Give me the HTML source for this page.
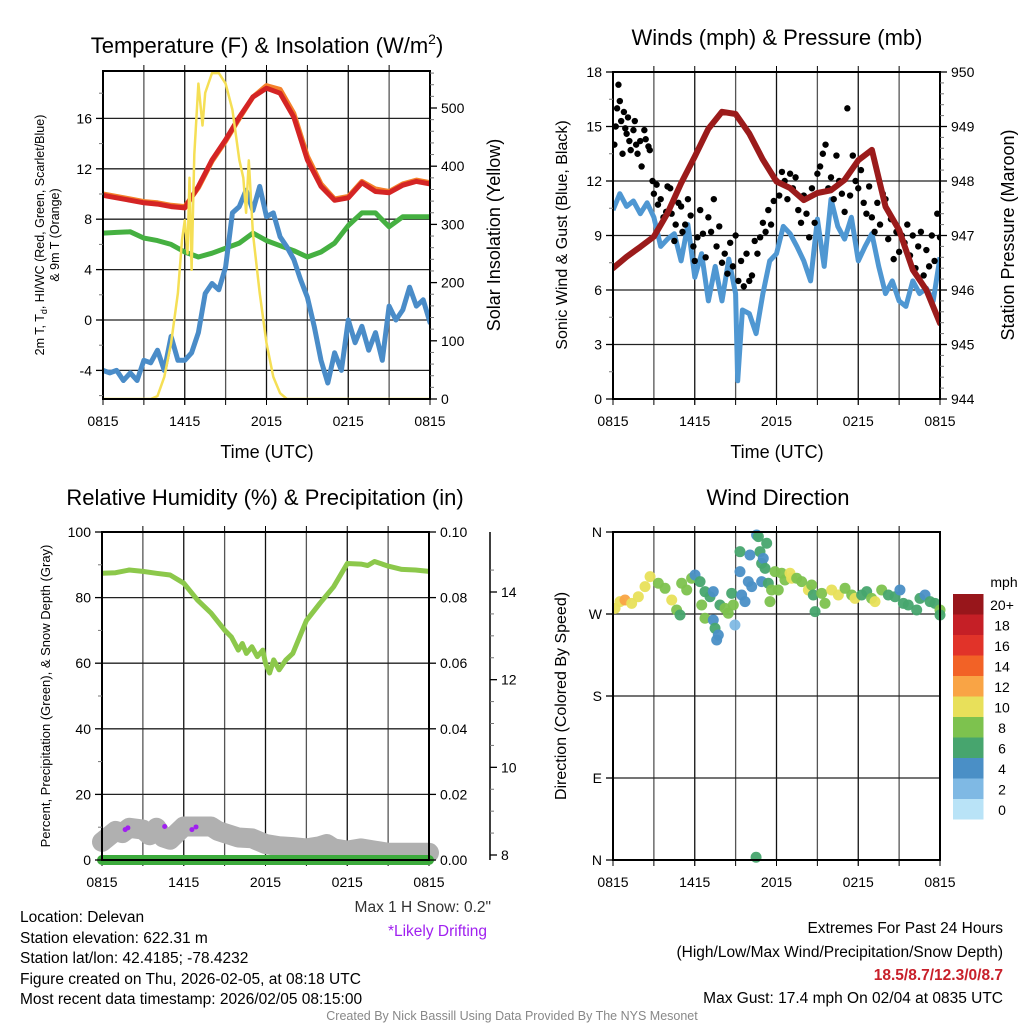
<!DOCTYPE html>
<html><head><meta charset="utf-8"><style>
html,body{margin:0;padding:0;background:#fff;}
svg{display:block;font-family:"Liberation Sans",Arial,sans-serif;}
</style></head><body>
<svg id="c" width="1024" height="1024" viewBox="0 0 1024 1024" xmlns="http://www.w3.org/2000/svg">
<rect width="1024" height="1024" fill="#fff"/>
<text x="267" y="53" font-size="22" text-anchor="middle">Temperature (F) &amp; Insolation (W/m<tspan font-size="14" dy="-9">2</tspan><tspan dy="9">)</tspan></text>
<text x="777" y="45" font-size="22" text-anchor="middle">Winds (mph) &amp; Pressure (mb)</text>
<text x="265" y="505" font-size="22" text-anchor="middle">Relative Humidity (%) &amp; Precipitation (in)</text>
<text x="778" y="505" font-size="22" text-anchor="middle">Wind Direction</text>

<text transform="translate(44,235) rotate(-90)" font-size="12.5" text-anchor="middle">2m T, T<tspan font-size="9" dy="3">d</tspan><tspan dy="-3">, HI/WC (Red, Green, Scarlet/Blue)</tspan></text>
<text transform="translate(59,235) rotate(-90)" font-size="12.5" text-anchor="middle">&amp; 9m T (Orange)</text>
<text transform="translate(500,235) rotate(-90)" font-size="18" text-anchor="middle">Solar Insolation (Yellow)</text>
<text transform="translate(567,235) rotate(-90)" font-size="16" text-anchor="middle">Sonic Wind &amp; Gust (Blue, Black)</text>
<text transform="translate(1014,235) rotate(-90)" font-size="18" text-anchor="middle">Station Pressure (Maroon)</text>
<text transform="translate(50,696) rotate(-90)" font-size="13" text-anchor="middle">Percent, Precipitation (Green), &amp; Snow Depth (Gray)</text>
<text transform="translate(566,696) rotate(-90)" font-size="16" text-anchor="middle">Direction (Colored By Speed)</text>
<text x="267" y="458" font-size="18" text-anchor="middle">Time (UTC)</text>
<text x="777" y="458" font-size="18" text-anchor="middle">Time (UTC)</text>

<text x="20" y="922" font-size="15.5">Location: Delevan</text>
<text x="20" y="943" font-size="15.5">Station elevation: 622.31 m</text>
<text x="20" y="963" font-size="15.5">Station lat/lon: 42.4185; -78.4232</text>
<text x="20" y="984" font-size="15.5">Figure created on Thu, 2026-02-05, at 08:18 UTC</text>
<text x="20" y="1004" font-size="15.5">Most recent data timestamp: 2026/02/05 08:15:00</text>
<text x="491" y="912" font-size="15.5" fill="#333" text-anchor="end">Max 1 H Snow: 0.2"</text>
<text x="487" y="936" font-size="15.5" fill="#a020f0" text-anchor="end">*Likely Drifting</text>
<text x="1003" y="933" font-size="15.5" text-anchor="end">Extremes For Past 24 Hours</text>
<text x="1003" y="957" font-size="15.5" text-anchor="end">(High/Low/Max Wind/Precipitation/Snow Depth)</text>
<text x="1003" y="980" font-size="15.5" font-weight="bold" fill="#c8202a" text-anchor="end">18.5/8.7/12.3/0/8.7</text>
<text x="1003" y="1003" font-size="15.5" text-anchor="end">Max Gust: 17.4 mph On 02/04 at 0835 UTC</text>
<text x="512" y="1020" font-size="12.5" fill="#888" text-anchor="middle">Created By Nick Bassill Using Data Provided By The NYS Mesonet</text>
<g id="g"></g>
</svg>
<script>
// ---------- data ----------
const timeLabels = ["0815","1415","2015","0215","0815"];
const hourly = [0,1,2,3,4,5,6,7,8,9,10,11,12,13,14,15,16,17,18,19,20,21,22,23,24];
const tempVals = [9.9,9.7,9.5,9.3,9.2,9.0,8.9,10.6,12.7,14.3,16.1,17.7,18.4,18.0,16.1,12.7,10.6,9.5,9.7,10.9,10.2,10.1,10.7,11.0,10.8];
const temp9mVals = [10.0,9.8,9.6,9.4,9.3,9.1,9.0,10.5,12.6,14.2,16.0,17.7,18.6,18.3,16.4,13.0,10.8,9.6,9.8,11.0,10.4,10.2,10.8,11.1,10.9];
const hiwcVals = [6.9,6.95,7.0,6.5,6.3,6.0,5.4,5.0,5.3,5.7,6.1,6.9,6.3,5.9,5.5,5.0,5.4,6.1,7.5,8.5,8.5,7.4,8.2,8.2,8.2];
const dewHours = [0,0.5,1,1.5,2,2.5,3,3.5,4,4.5,5,5.5,6,6.5,7,7.5,8,8.5,9,9.5,10,10.5,11,11.5,12,12.5,13,13.5,14,14.5,15,15.5,16,16.5,17,17.5,18,18.5,19,19.5,20,20.5,21,21.5,22,22.5,23,23.5,24];
const dewVals = [-4.0,-4.2,-4.0,-4.8,-4.2,-4.8,-3.2,-3.4,-2.4,-4.0,-1.3,-3.2,-3.2,-2.6,-1.0,2.1,2.9,2.4,4.2,8.5,9.0,10.3,8.7,10.6,8.2,8.5,6.6,5.8,4.8,3.2,1.8,-0.5,-3.2,-5.0,-2.6,-4.0,0,-1.8,-0.5,-2.4,-1.0,-3.2,1.1,0,0.8,2.6,1.1,1.6,-0.2];
const solarHours = [0,3.5,4,4.5,5,5.5,5.8,6.0,6.2,6.35,6.5,6.7,7,7.3,7.5,8,8.5,9,9.5,10,10.3,10.5,10.7,11,11.5,12,12.5,13,13.5,24];
const solarVals = [0,0,5,38,96,182,273,307,250,380,222,420,542,470,526,560,560,542,497,411,380,320,410,285,182,96,38,10,0,0];
const windHours = [0,0.5,1,1.5,2,2.5,3,3.5,4,4.5,5,5.5,6,6.5,7,7.5,8,8.5,9,9.15,9.5,10,10.5,11,11.5,12,12.5,13,13.5,14,14.5,15,15.5,16,16.5,17,17.5,18,18.5,19,19.5,20,20.5,21,21.5,22,22.5,23,23.5,24];
const windVals = [10.4,11.3,10.6,10.9,10.2,10.8,10.0,8.4,8.8,9.1,7.6,9.6,6.7,8.0,5.4,7.3,5.4,7.7,5.8,1.0,4.9,4.7,3.6,5.8,7.6,8.0,9.5,9.1,8.4,7.6,6.5,9.9,7.3,11.0,9.5,8.8,10.0,7.6,8.4,9.1,7.3,5.8,6.5,5.4,5.1,6.5,5.8,6.1,5.4,7.8];
const gustHours = [0.1,0.2,0.3,0.4,0.5,0.6,0.7,0.8,0.9,1.0,1.1,1.2,1.3,1.5,1.6,1.7,1.8,2.0,2.1,2.3,2.4,2.6,2.7,2.9,3.0,3.2,3.3,3.5,3.7,3.9,4.0,4.2,4.3,4.5,4.6,4.8,5.0,5.1,5.3,5.5,5.7,5.9,6.0,6.2,6.4,6.6,6.8,7.0,7.2,7.4,7.6,7.8,8.0,8.2,8.4,8.6,8.8,9.0,9.2,9.4,9.6,9.8,10.0,10.2,10.4,10.6,10.8,11.0,11.2,11.4,11.6,11.8,12.0,12.2,12.4,12.6,12.8,13.0,13.2,13.4,13.6,13.8,14.0,14.2,14.4,14.6,14.8,15.0,15.2,15.4,15.6,15.8,16.0,16.2,16.4,16.6,16.8,17.0,17.2,17.4,17.6,17.8,18.0,18.2,18.4,18.6,18.8,19.0,19.2,19.4,19.6,19.8,20.0,20.2,20.4,20.6,20.8,21.0,21.2,21.4,21.6,21.8,22.0,22.2,22.4,22.6,22.8,23.0,23.2,23.4,23.6,23.8,24.0];
const gustVals = [14.0,15.0,16.0,17.3,16.4,15.3,13.5,15.8,14.9,14.6,15.5,14.2,13.7,14.8,15.3,14.0,13.5,14.2,12.8,14.8,14.3,13.9,13.7,12.0,11.3,11.8,10.7,11.0,10.0,10.3,11.7,11.6,10.2,8.7,9.6,10.8,10.6,9.2,9.6,11.0,10.1,8.4,7.6,8.9,10.4,9.1,7.8,10.0,9.2,11.0,8.4,9.5,7.5,8.0,6.9,8.6,7.3,9.0,6.5,7.6,6.2,8.0,6.5,6.8,8.7,8.0,8.9,9.7,9.2,10.4,9.6,10.9,12.0,11.2,12.5,12.0,11.0,12.4,11.6,12.2,10.4,9.7,11.2,10.2,8.9,11.6,9.7,12.4,12.8,13.5,14.0,11.6,12.2,11.0,13.4,12.0,11.3,10.3,16.0,11.2,13.4,12.0,11.6,12.6,10.8,10.2,11.7,10.0,9.2,10.8,9.6,11.3,11.0,8.8,9.9,7.7,9.2,8.1,9.0,8.6,9.6,7.9,9.0,7.2,8.4,9.2,6.8,8.2,7.3,9.0,7.6,10.2,8.9];
const pressVals = [946.40,946.61,946.79,946.98,947.41,947.96,948.45,948.96,949.27,949.23,948.87,948.39,947.99,947.87,947.65,947.78,947.83,948.02,948.38,948.57,947.53,947.10,946.37,946.00,945.39];
const rhHours = [0,1,2,3,4,5,6,7,8,9,9.5,10,10.3,10.6,11,11.4,11.8,12,12.3,12.6,13,13.5,14,15,16,17,18,19,19.5,20,21,22,23,24];
const rhVals = [87.4,87.6,88.4,88,87.4,86.9,84.4,79.3,75.3,70.1,68,64.0,66,63,65,62,64,60,57,61,58,61,63,73,78.3,83.3,90.4,90.2,89.8,91,89.6,88.6,88.4,88];
const precipHours = [0,24];
const precipVals = [0,0];
const snowHours = [0,1,1.5,2,3,3.5,4,4.5,5,5.5,6,7,8,8.5,9,10,11,12,13,14,15,16,16.5,17,18,19,20,21,24];
const snowVals = [8.3,8.55,8.5,8.62,8.58,8.45,8.62,8.4,8.35,8.5,8.65,8.65,8.65,8.55,8.5,8.4,8.38,8.25,8.2,8.18,8.15,8.2,8.25,8.15,8.1,8.15,8.1,8.05,8.05];
const driftHours = [1.7,1.9,4.6,6.6,6.9];
const driftVals = [8.58,8.62,8.65,8.58,8.64];
const dirHours = [0.15,0.51,0.88,1.37,1.86,2.35,2.72,3.33,3.82,4.31,4.67,4.92,5.04,5.41,5.77,6.02,6.39,6.51,6.75,6.75,7.12,7.36,7.36,7.49,7.73,7.61,7.85,8.22,8.46,8.71,8.83,8.95,9.32,9.32,9.44,9.69,9.93,10.05,10.18,10.54,10.67,10.79,10.91,11.03,11.16,10.91,11.28,11.40,11.52,11.64,11.89,12.13,12.38,12.62,12.99,13.11,13.48,13.85,14.34,14.58,14.70,14.83,15.32,15.56,16.05,16.54,17.03,17.52,17.76,18.25,18.62,18.98,19.23,19.72,20.21,20.70,21.06,21.31,21.67,22.29,22.53,22.90,23.27,23.63,24.0,24.0,10.5];
const dirVals = [276.2,283.6,285.4,281.7,289.0,300.0,311.0,303.7,298.2,285.4,274.4,268.9,303.7,296.4,309.2,312.8,305.5,279.9,265.3,294.5,289.0,294.5,263.4,254.3,247.0,241.5,279.9,276.2,270.8,292.7,279.9,257.9,338.4,316.5,290.9,283.6,305.5,334.8,300.0,356.7,354.9,338.4,325.6,331.1,320.1,305.5,347.6,303.7,283.6,296.4,316.5,296.4,314.7,307.3,314.7,309.2,309.2,305.5,296.4,301.8,290.9,272.6,292.7,281.7,296.4,290.9,298.2,290.9,287.2,290.9,294.5,287.2,283.6,296.4,290.9,289.0,296.4,281.7,279.9,274.4,287.2,290.9,283.6,281.7,274.4,268.9,3];
const dirSpeeds = [9,9,12,9,9,9,9,7,7,9,7,5,7,7,7,4,5,7,7,5,5,4,3,5,3,3,5,7,7,5,7,2,5,4,4,4,4,4,4,3,5,5,5,4,5,4,5,5,7,7,7,7,7,7,9,9,7,7,9,7,5,5,7,7,9,9,7,7,9,5,5,7,9,7,5,5,4,5,5,5,5,4,5,5,7,5,5];
const pressTicks = [944,945,946,947,948,949,950];
const tempTicks = [-4,0,4,8,12,16];
const solarTicks = [0,100,200,300,400,500];
const windTicks = [0,3,6,9,12,15,18];
const rhTicks = [0,20,40,60,80,100];
const precipTicks = ["0.00","0.02","0.04","0.06","0.08","0.10"];
const snowTicks = [8,10,12,14];
const dirTicks = ["N","E","S","W","N"];
const speedLabels = ["0","2","4","6","8","10","12","14","16","18","20+"];
const speedColors = ["#b9e3f7","#7fb9e4","#4a8fc6","#47a56e","#7dc24e","#e8e05a","#f9a445","#f26226","#e13329","#c51f26","#98161b"];

// ---------- helpers ----------
const NS="http://www.w3.org/2000/svg";
const root=document.getElementById('g');
function mk(tag,attrs,parent){const e=document.createElementNS(NS,tag);for(const k in attrs)e.setAttribute(k,attrs[k]);(parent||root).appendChild(e);return e;}
function lin(d0,d1,r0,r1){return v=>r0+(v-d0)*(r1-r0)/(d1-d0);}
function grp(name){const e=mk('g',{});


return e;}
function pathOf(hs,vs,X,Y){return hs.map((h,i)=>(i?'L':'M')+X(h).toFixed(1)+','+Y(vs[i]).toFixed(1)).join('');}

const P1={x0:103,x1:430,y0:71,y1:399}, P2={x0:613,x1:940,y0:72,y1:399}, P3={x0:102,x1:429,y0:532,y1:860}, P4={x0:613,x1:940,y0:532,y1:860};
function frame(P,name,hTicksY,clipId){
  const g=grp(name+'-grid');
  const X=lin(0,24,P.x0,P.x1);
  for(let h=3;h<24;h+=3){const l=mk('line',{x1:X(h),x2:X(h),y1:P.y0,y2:P.y1,stroke:(h%6?'#555':'#111'),'stroke-width':1.3},g);
    
    
    mk('line',{x1:X(h),x2:X(h),y1:P.y0-6,y2:P.y0,stroke:'#000'},g);
    mk('line',{x1:X(h),x2:X(h),y1:P.y1,y2:P.y1+6,stroke:'#000'},g);}
  hTicksY.forEach(y=>{if(y>P.y0+1&&y<P.y1-1){const l=mk('line',{x1:P.x0,x2:P.x1,y1:y,y2:y,stroke:'#222','stroke-width':1.3},g);
    
    }});
  const cp=mk('clipPath',{id:clipId});mk('rect',{x:P.x0,y:P.y0,width:P.x1-P.x0,height:P.y1-P.y0},cp);
  timeLabels.forEach((t,i)=>{const tx=mk('text',{x:X(i*6),y:P.y1+27,'font-size':14,'text-anchor':'middle'},g);tx.textContent=t;
    
    
    mk('line',{x1:X(i*6),x2:X(i*6),y1:P.y1,y2:P.y1+6,stroke:'#000'},g);});
  return X;
}
function border(P,name){const r=mk('rect',{x:P.x0,y:P.y0,width:P.x1-P.x0,height:P.y1-P.y0,fill:'none',stroke:'#000','stroke-width':2});
  
  }
function yAxis(x,vals,Y,side,labels,minor,name,fs){
  const g=grp(name);
  vals.forEach((v,i)=>{const y=Y(v);mk('line',{x1:x,x2:x+(side<0?-7:7),y1:y,y2:y,stroke:'#000','stroke-width':1.3},g);
    const t=mk('text',{x:x+(side<0?-11:11),y:y+5,'font-size':fs||14,'text-anchor':side<0?'end':'start'},g);t.textContent=labels?labels[i]:v;
    
    });
  (minor||[]).forEach(v=>{const y=Y(v);mk('line',{x1:x,x2:x+(side<0?-4:4),y1:y,y2:y,stroke:'#777'},g);});
}

// ---------- panel 1 ----------
{
  const Yt=lin(0,16,320,118.4), Ys=lin(0,500,399,108);
  const X=frame(P1,'temperature',tempTicks.map(Yt),'c1');
  const s=grp('temperature-series');s.setAttribute('clip-path','url(#c1)');
  const ln=(hs,vs,Y,col,w,name)=>{const p=mk('path',{d:pathOf(hs,vs,X,Y),fill:'none',stroke:col,'stroke-width':w,'stroke-linejoin':'round','stroke-linecap':'round'},s);
    
    };
  ln(hourly,hiwcVals,Yt,'#45b041',5,'hiwc-line');
  ln(dewHours,dewVals,Yt,'#4a8cc8',5,'dewpoint-line');
  ln(hourly,temp9mVals,Yt,'#f4812a',5,'temp-9m-line');
  ln(hourly,tempVals,Yt,'#d42424',5,'temp-2m-line');
  ln(solarHours,solarVals,Ys,'#f5df55',2.5,'solar-line');
  border(P1,'temperature');
  const minors=[];for(let v=-6;v<=20;v+=2)if(v%4)minors.push(v);
  yAxis(P1.x0,tempTicks,Yt,-1,null,minors,'temperature-y-axis');
  const sm=[];for(let v=20;v<=560;v+=20)if(v%100)sm.push(v);
  yAxis(P1.x1,solarTicks,Ys,1,null,sm,'solar-y-axis');
}
// ---------- panel 2 ----------
{
  const Yw=lin(0,18,399,72), Yp=lin(944,950,399,72);
  const X=frame(P2,'wind',windTicks.map(Yw),'c2');
  const s=grp('wind-series');s.setAttribute('clip-path','url(#c2)');
  const p=mk('path',{d:pathOf(windHours,windVals,X,Yw),fill:'none',stroke:'#4f97d2','stroke-width':5,'stroke-linejoin':'round'},s);
  
  
  gustHours.forEach((h,i)=>{const c=mk('circle',{cx:X(h),cy:Yw(gustVals[i]),r:3.2,fill:'#000'},s);
    
    });
  const q=mk('path',{d:pathOf(hourly,pressVals,X,Yp),fill:'none',stroke:'#9b1b1b','stroke-width':6,'stroke-linejoin':'round','stroke-linecap':'round'},s);
  
  
  border(P2,'wind');
  const wm=[];for(let v=1.5;v<18;v+=3)wm.push(v);
  yAxis(P2.x0,windTicks,Yw,-1,null,wm,'wind-y-axis');
  const pm=[];for(let v=944.2;v<950;v+=0.2){if(Math.abs(v-Math.round(v))>0.05)pm.push(v);}
  yAxis(P2.x1,pressTicks,Yp,1,null,pm,'pressure-y-axis');
}
// ---------- panel 3 ----------
{
  const Yr=lin(0,100,860,532), Yq=lin(0,0.1,860,532), Ysn=lin(8,14,855,592);
  const X=frame(P3,'humidity',rhTicks.map(Yr),'c3');
  const s=grp('humidity-series');
  const g1=mk('path',{d:pathOf(snowHours,snowVals,X,Ysn),fill:'none',stroke:'#b0b0b0','stroke-width':20,'stroke-linejoin':'round','stroke-linecap':'round'},s);
  
  
  for(let i=0;i<driftHours.length;i+=1){const c=mk('circle',{cx:X(driftHours[i]),cy:Ysn(driftVals[i]),r:2.5,fill:'#a020f0'},s);
    
    }
  const r=mk('path',{d:pathOf(rhHours,rhVals,X,Yr),fill:'none',stroke:'#8cc84b','stroke-width':5,'stroke-linejoin':'round'},s);
  
  
  border(P3,'humidity');
  const pr=mk('path',{d:pathOf(precipHours,precipVals,X,Yq),fill:'none',stroke:'#3dab3d','stroke-width':10,'stroke-linecap':'round'},s);
  
  
  mk('line',{x1:P3.x0,x2:P3.x1,y1:860,y2:860,stroke:'#000','stroke-width':1.5},s);
  const rm=[];for(let v=10;v<100;v+=20)rm.push(v);
  yAxis(P3.x0,rhTicks,Yr,-1,null,rm,'humidity-y-axis');
  yAxis(P3.x1,[0,0.02,0.04,0.06,0.08,0.1],Yq,1,precipTicks,[],'precipitation-y-axis');
  mk('line',{x1:490,x2:490,y1:532,y2:860,stroke:'#000','stroke-width':1.5});
  const snm=[];for(let v=8.5;v<14.6;v+=0.5)if(v%2)snm.push(v);
  yAxis(490,snowTicks,Ysn,1,null,snm,'snow-depth-y-axis');
}
// ---------- panel 4 ----------
{
  const Yd=lin(0,360,860,532);
  const X=frame(P4,'direction',[0,90,180,270,360].map(Yd),'c4');
  const s=grp('direction-series');s.setAttribute('clip-path','url(#c4b)');
  const cp=mk('clipPath',{id:'c4b'});mk('rect',{x:P4.x0,y:P4.y0-8,width:P4.x1-P4.x0+6,height:P4.y1-P4.y0+16},cp);
  dirHours.forEach((h,i)=>{const idx=Math.min(10,Math.round(dirSpeeds[i]/2));const c=mk('circle',{cx:X(h),cy:Yd(dirVals[i]),r:5.5,fill:speedColors[idx],'fill-opacity':0.95},s);
    
    });
  border(P4,'direction');
  yAxis(P4.x0,[0,90,180,270,360],Yd,-1,dirTicks,[],'direction-y-axis');
  const cb=grp('speed-colorbar');
  speedColors.forEach((col,i)=>{const y=799-i*20.5;const r=mk('rect',{x:953,y:y,width:30.5,height:20.5,fill:col},cb);
    
    
    const t=mk('text',{x:1002,y:y+16,'font-size':14,'text-anchor':'middle'},cb);t.textContent=speedLabels[i];
    
    });
  const u=mk('text',{x:1004,y:587,'font-size':14,'text-anchor':'middle'},cb);u.textContent='mph';
  
  
}
</script>
</body></html>
